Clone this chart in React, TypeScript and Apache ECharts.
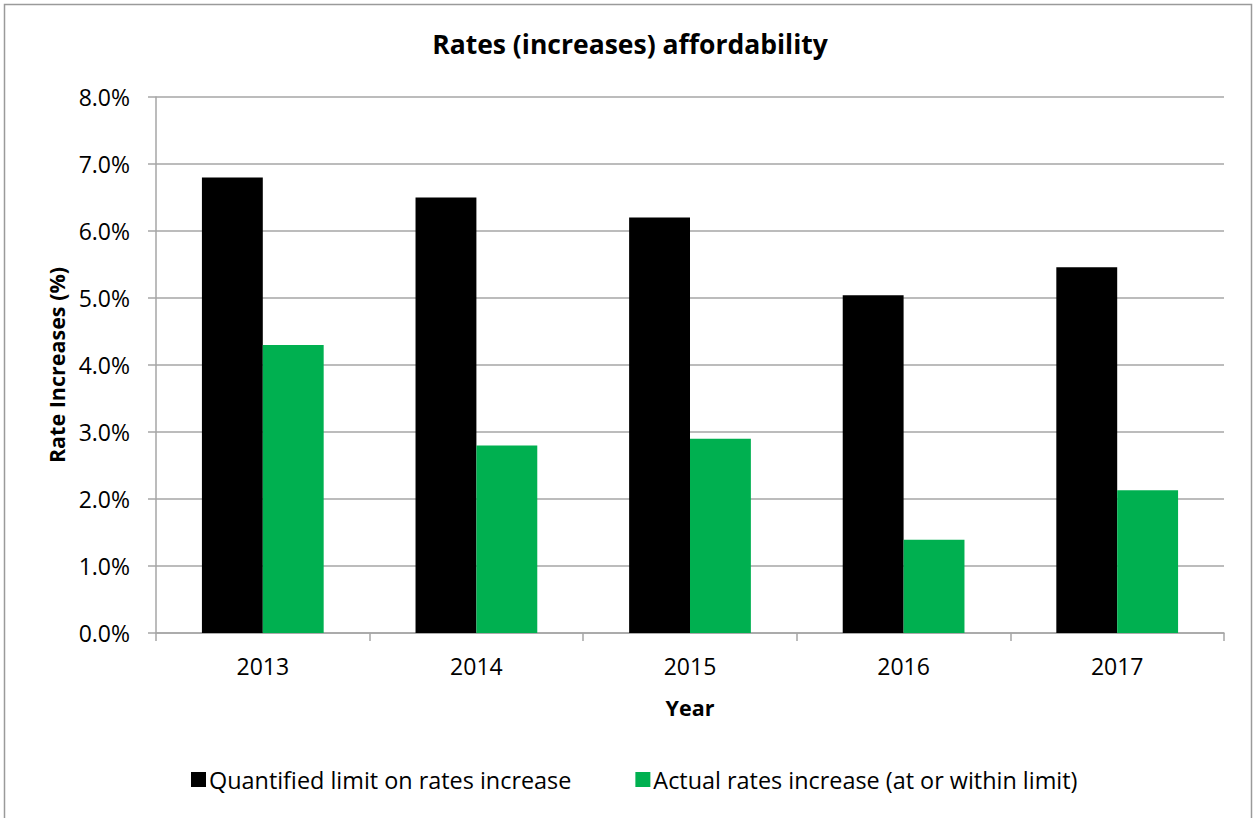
import React, { useEffect, useRef } from "react";
import * as echarts from "echarts";

const categories = ["2013", "2014", "2015", "2016", "2017"];
const limitValues = [6.8, 6.5, 6.2, 5.04, 5.46];
const actualValues = [4.3, 2.8, 2.9, 1.39, 2.13];
const seriesNames = [
  "Quantified limit on rates increase",
  "Actual rates increase (at or within limit)",
];

const FONT = "Open Sans";
const GRAY = "#A6A6A6";

export default function App() {
  const ref = useRef<HTMLDivElement>(null);
  useEffect(() => {
    if (!ref.current) return;
    const chart = echarts.init(ref.current, undefined, { renderer: "svg" });
    chart.setOption({
      animation: false,
      backgroundColor: "#ffffff",
      textStyle: { fontFamily: FONT },
      title: {
        text: "Rates (increases) affordability",
        left: 625,
        textAlign: "center",
        top: 25,
        textStyle: { fontFamily: FONT, fontWeight: "bold", fontSize: 26.5, color: "#000" },
      },
      graphic: [
        {
          type: "rect",
          shape: { x: 4.5, y: 4.5, width: 1247, height: 840 },
          style: { fill: "none", stroke: "#9A9A9A", lineWidth: 1.5 },
          silent: true,
        },
      ],
      legend: {
        left: 186,
        top: 763,
        itemWidth: 15,
        itemHeight: 15,
        itemGap: 64,
        icon: "rect",
        textStyle: { fontFamily: FONT, fontSize: 23.4, color: "#000", padding: [0, 0, 0, -2] },
        data: seriesNames,
      },
      grid: { left: 156, right: 29, top: 97, bottom: 185, containLabel: false },
      xAxis: {
        type: "category",
        data: categories,
        name: "Year",
        nameLocation: "middle",
        nameGap: 63,
        nameTextStyle: { fontFamily: FONT, fontWeight: "bold", fontSize: 21.5, color: "#000", verticalAlign: "top" },
        axisLine: { show: true, lineStyle: { color: GRAY, width: 1.5 } },
        axisTick: { show: true, length: 8, lineStyle: { color: GRAY, width: 1.5 } },
        axisLabel: { fontFamily: FONT, fontSize: 23, color: "#000", margin: 21 },
      },
      yAxis: {
        type: "value",
        min: 0,
        max: 8,
        interval: 1,
        name: "Rate Increases (%)",
        nameLocation: "middle",
        nameGap: 89,
        nameTextStyle: { fontFamily: FONT, fontWeight: "bold", fontSize: 21.5, color: "#000" },
        axisLine: { show: true, lineStyle: { color: GRAY, width: 1.5 } },
        axisTick: { show: true, length: 8, lineStyle: { color: GRAY, width: 1.5 } },
        splitLine: { show: true, lineStyle: { color: GRAY, width: 1.5 } },
        axisLabel: {
          fontFamily: FONT,
          fontSize: 23,
          color: "#000",
          margin: 26,
          formatter: (v: number) => v.toFixed(1) + "%",
        },
      },
      series: [
        {
          name: seriesNames[0],
          type: "bar",
          data: limitValues,
          barGap: "0%",
          barCategoryGap: "43%",
          itemStyle: { color: "#000000" },
        },
        {
          name: seriesNames[1],
          type: "bar",
          data: actualValues,
          barGap: "0%",
          barCategoryGap: "43%",
          itemStyle: { color: "#00B050" },
        },
      ],
    });
    return () => chart.dispose();
  }, []);
  return (
    <div
      ref={ref}
      style={{ position: "absolute", left: 0, top: 0, width: 1253, height: 818 }}
    />
  );
}
